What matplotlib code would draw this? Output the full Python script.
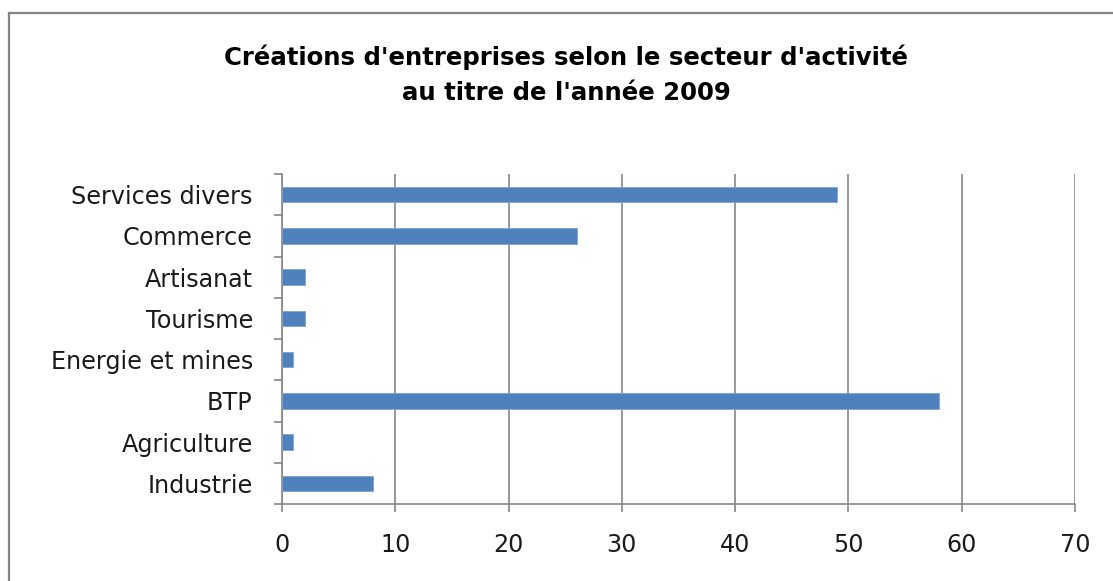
import matplotlib.pyplot as plt
from matplotlib.lines import Line2D
import numpy as np

# data, bottom to top as in the chart
secteurs = ["Industrie", "Agriculture", "BTP", "Energie et mines",
            "Tourisme", "Artisanat", "Commerce", "Services divers"]
creations = [8, 1, 58, 1, 2, 2, 26, 49]
x_ticks = [0, 10, 20, 30, 40, 50, 60, 70]

W, H = 1113, 581
fig = plt.figure(figsize=(W / 100, H / 100), dpi=100)
fig.patch.set_facecolor("white")
font = "DejaVu Sans"

# chart frame (left + top visible)
fig.add_artist(Line2D([9 / W, 9 / W], [0, 1 - 13 / H], color="#868686", lw=1.6))
fig.add_artist(Line2D([9 / W, 1], [1 - 13 / H, 1 - 13 / H], color="#868686", lw=1.6))

fig.text(566 / W, 1 - 57 / H, "Créations d'entreprises selon le secteur d'activité",
         ha="center", va="center", fontsize=17.6, fontweight="bold", family=font)
fig.text(566 / W, 1 - 93 / H, "au titre de l'année 2009",
         ha="center", va="center", fontsize=17.6, fontweight="bold", family=font)

ax = fig.add_axes([282 / W, (H - 504) / H, (1075 - 282) / W, (504 - 174) / H])
y = np.arange(len(secteurs))
ax.barh(y, creations, height=0.38, color="#4F81BD", edgecolor="#7FA3D1", linewidth=0.6, zorder=3)

ax.set_xlim(0, 70)
ax.set_ylim(-0.5, len(secteurs) - 0.5)
ax.set_xticks(x_ticks)
ax.set_yticks(y)
ax.set_yticklabels(secteurs)
ax.set_yticks(np.arange(-0.5, len(secteurs)), minor=True)

ax.grid(axis="x", color="#868686", lw=1.2, zorder=0)
for s in ["top", "right"]:
    ax.spines[s].set_visible(False)
for s in ["left", "bottom"]:
    ax.spines[s].set_color("#868686")
    ax.spines[s].set_linewidth(1.2)

ax.tick_params(axis="y", which="major", length=0, pad=21)
ax.tick_params(axis="y", which="minor", length=5.5, color="#868686", width=1.2)
ax.tick_params(axis="x", length=5.5, color="#868686", width=1.2, pad=15.5)
for lbl in ax.get_xticklabels() + ax.get_yticklabels():
    lbl.set_fontsize(17.2)
    lbl.set_family(font)
    lbl.set_color("#1a1a1a")

fig.savefig("out.png", dpi=100)
